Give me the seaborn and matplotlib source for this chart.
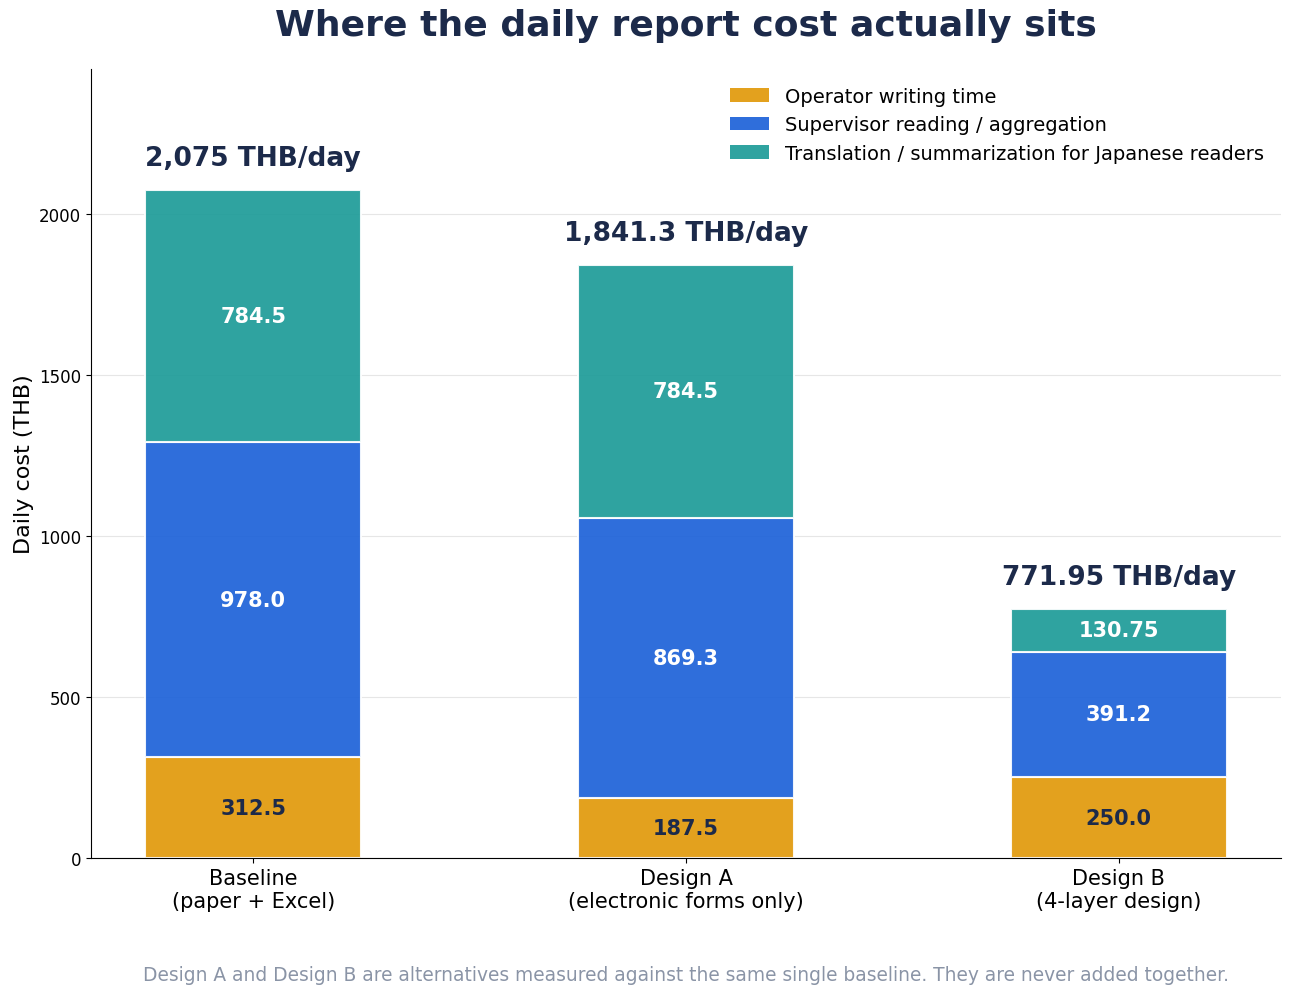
import matplotlib
matplotlib.use("Agg")
import matplotlib.pyplot as plt
from matplotlib.patches import Patch
import seaborn as sns
import pandas as pd

# data
scenarios = ["Baseline\n(paper + Excel)", "Design A\n(electronic forms only)", "Design B\n(4-layer design)"]
components = ["Operator writing time",
              "Supervisor reading / aggregation",
              "Translation / summarization for Japanese readers"]
operator_writing = [312.5, 187.5, 250.0]
supervisor_reading = [978.0, 869.3, 391.2]
translation = [784.5, 784.5, 130.75]

colors = ["#E1990A", "#1D62D8", "#1D9B98"]
label_colors = ["#1C2A4A", "white", "white"]
navy = "#1C2A4A"


def seg_fmt(v):
    s = f"{v:.2f}".rstrip("0")
    return s + "0" if s.endswith(".") else s


def total_fmt(v):
    return f"{v:,.2f}".rstrip("0").rstrip(".")


fig = plt.figure(figsize=(12.91, 9.95), dpi=100)
ax = fig.add_axes([0.0705, 0.1367, 0.9218, 0.7929])
ax.set_axisbelow(True)
ax.yaxis.grid(True, color="#e6e6e6", linewidth=0.8)

bottoms = [0.0, 0.0, 0.0]
for comp, vals, col, lc in zip(components, [operator_writing, supervisor_reading, translation],
                               colors, label_colors):
    d = pd.DataFrame({"scenario": scenarios, "cost": vals})
    sns.barplot(data=d, x="scenario", y="cost", order=scenarios, color=col, saturation=1,
                width=0.5, bottom=bottoms, edgecolor="white", linewidth=1.5, alpha=0.92,
                errorbar=None, ax=ax)
    for i, v in enumerate(vals):
        ax.text(i, bottoms[i] + v / 2, seg_fmt(v), ha="center", va="center",
                fontsize=15, fontweight="bold", color=lc)
    bottoms = [b + v for b, v in zip(bottoms, vals)]

for i, t in enumerate(bottoms):
    ax.text(i, t + 100, f"{total_fmt(t)} THB/day", ha="center", va="center",
            fontsize=19, fontweight="bold", color=navy)

ax.set_xlim(-0.375, 2.375)
ax.set_ylim(0, 2450)
ax.set_yticks([0, 500, 1000, 1500, 2000])
ax.set_xlabel("")
ax.set_ylabel("Daily cost (THB)", fontsize=16)
ax.tick_params(axis="x", labelsize=15)
ax.tick_params(axis="y", labelsize=12)
sns.despine(ax=ax)

handles = [Patch(facecolor=c, alpha=0.92, label=n) for c, n in zip(colors, components)]
ax.legend(handles=handles, loc="upper right", frameon=False, fontsize=14)

fig.text(0.5314, 0.974, "Where the daily report cost actually sits", ha="center", va="center",
         fontsize=26, fontweight="bold", color=navy)
fig.text(0.5314, 0.0201,
         "Design A and Design B are alternatives measured against the same single baseline. "
         "They are never added together.",
         ha="center", va="center", fontsize=13.4, color="#8A94A6")

fig.savefig("out.png", dpi=100)
